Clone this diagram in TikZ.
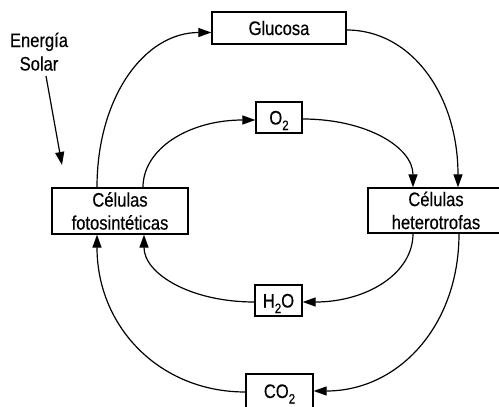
\documentclass[tikz,border=0pt]{standalone}
\usepackage{fontspec}
\setmainfont{Liberation Sans}[FakeStretch=0.85,FakeBold=0.4]
\usetikzlibrary{arrows.meta}
% chemical-formula index: larger and lower than \textsubscript
\newcommand\lowidx[1]{\raisebox{-5.5pt}{\fontsize{13.5}{13.5}\selectfont #1}}

\begin{document}
\begin{tikzpicture}[x=1pt,y=-1pt,
  every node/.style={font=\fontsize{19.5}{23}\selectfont, inner sep=0pt},
  cell/.style={draw, line width=1.3pt, align=center},
  oneline/.style={cell, text height=14pt, text depth=0pt},
  flow/.style={line width=1.2pt, -{Triangle[length=13pt,width=9pt]}}]
\useasboundingbox (0,0) rectangle (499,407);

% boxes
\node[oneline, minimum width=134pt, minimum height=32pt] (glu) at (279,28) {Glucosa};
\node[oneline, minimum width=46pt, minimum height=31pt] (ox) at (279,117.5) {O\lowidx{2}};
\node[cell, minimum width=136pt, minimum height=46pt] (fs) at (120,211) {Células\\fotosintéticas};
\node[cell, minimum width=136pt, minimum height=45pt] (ht) at (436,210.5) {Células\\heterotrofas};
\node[oneline, minimum width=47pt, minimum height=31pt] (hw) at (278.5,300.5) {H\lowidx{2}O};
\node[oneline, minimum width=67pt, minimum height=34pt] (co) at (279.5,391) {CO\lowidx{2}};

% solar energy label
\node[anchor=base] (en) at (39,47) {Energía};
\node[anchor=base] (so) at (39,70.5) {Solar};
\coordinate (sunA) at (46,76);
\coordinate (sunB) at (62,165);
\draw[line width=1.2pt, -{Triangle[length=13pt,width=9pt]}] (sunA) -- (sunB);

% outer cycle
\draw[flow] ([xshift=-23pt]fs.north) .. controls +(0,-90) and +(-67,0) .. ([yshift=-4.5pt]glu.west);
\draw[flow] ([yshift=-2pt]glu.east) .. controls +(65,0) and +(0,-92) .. ([xshift=22pt]ht.north);
\draw[flow] ([xshift=23pt]ht.south) .. controls +(0,92) and +(85,0) .. (co.east);
\draw[flow] ([yshift=-1pt]co.west) .. controls +(-86,0) and +(0,92) .. ([xshift=-23pt]fs.south);

% inner cycle
\draw[flow] ([xshift=23pt]fs.north) .. controls +(0,-39) and +(-66,0) .. ([yshift=-2.5pt]ox.west);
\draw[flow] ([yshift=-1.5pt]ox.east) .. controls +(64,0) and +(0,-40) .. ([xshift=-23pt]ht.north);
\draw[flow] ([xshift=-23pt]ht.south) .. controls +(0,40) and +(64,0) .. ([yshift=-1.5pt]hw.east);
\draw[flow] ([yshift=-1.5pt]hw.west) .. controls +(-64,0) and +(0,39) .. ([xshift=24pt]fs.south);
\end{tikzpicture}
\end{document}
